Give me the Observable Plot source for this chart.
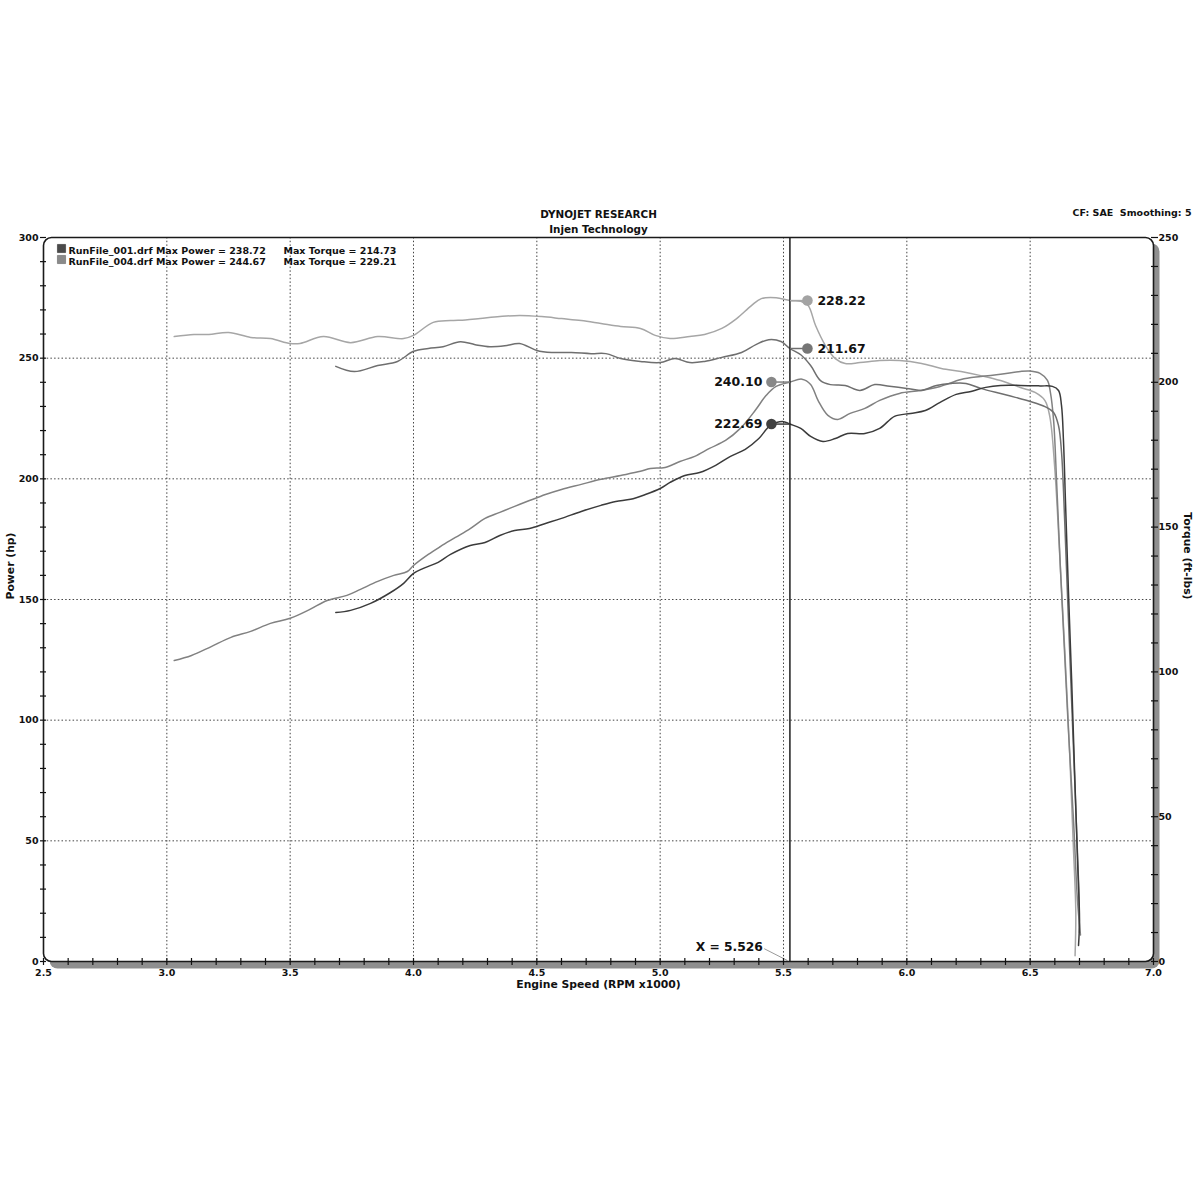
<!DOCTYPE html>
<html><head><meta charset="utf-8">
<script src="https://cdn.jsdelivr.net/npm/d3@7"></script>
<script src="https://cdn.jsdelivr.net/npm/@observablehq/plot@0.6"></script>
<style>
html,body{margin:0;padding:0;background:#fff;}
#chart{width:1201px;height:1201px;}
</style></head><body><div id="chart"></div>
<script>
// ---- data ----
const rpmMajorTicks = [2.5,3.0,3.5,4.0,4.5,5.0,5.5,6.0,6.5,7.0];
const powerTicks = [0,50,100,150,200,250,300];
const torqueTicks = [0,50,100,150,200,250];
const runNames = ["RunFile_001.drf","RunFile_004.drf"];
const runMaxPower = [238.72, 244.67];
const runMaxTorque = [214.73, 229.21];
const cursorRpm = 5.526;
const readoutSeries = ["torque004","torque001","power004","power001"];
const readoutValues = [228.22, 211.67, 240.10, 222.69];

// [rpm x1000, hp]
const power001 = [
[3.685,144.6],[3.745,145.5],[3.826,148.4],[3.907,152.9],[3.96,156.7],[4.00,160.8],[4.04,162.9],[4.10,165.4],[4.15,168.7],[4.23,172.4],[4.29,173.6],[4.35,176.5],[4.41,178.6],[4.47,179.4],[4.535,181.5],[4.60,183.6],[4.68,186.5],[4.76,189.0],[4.82,190.6],[4.88,191.5],[4.94,193.5],[5.00,196.0],[5.04,198.5],[5.10,201.4],[5.16,202.6],[5.225,205.6],[5.285,209.3],[5.345,212.2],[5.40,216.7],[5.447,222.1],[5.496,223.8],[5.526,222.69],[5.57,220.9],[5.61,217.6],[5.66,215.5],[5.71,216.7],[5.76,218.8],[5.83,218.8],[5.89,220.9],[5.95,225.9],[6.015,227.1],[6.075,228.3],[6.135,231.7],[6.20,235.0],[6.26,236.2],[6.32,237.9],[6.38,238.7],[6.46,238.72],[6.54,238.5],[6.59,238.3],[6.615,236.6],[6.627,230.4],[6.635,215.9],[6.643,191],[6.655,154],[6.668,117],[6.68,79],[6.692,42],[6.70,17],[6.696,6.6]
];
const power004 = [
[3.03,124.7],[3.10,126.8],[3.18,130.5],[3.26,134.3],[3.34,136.8],[3.42,140.1],[3.50,142.2],[3.58,145.9],[3.65,149.6],[3.73,151.7],[3.785,154.2],[3.855,157.5],[3.92,160.0],[3.975,161.6],[4.00,164.1],[4.06,168.7],[4.11,172.0],[4.17,175.7],[4.23,179.4],[4.29,183.6],[4.35,186.1],[4.41,188.6],[4.47,191.0],[4.535,193.5],[4.60,195.6],[4.68,197.7],[4.76,199.8],[4.84,201.4],[4.92,203.1],[4.96,204.3],[5.02,204.7],[5.08,207.2],[5.14,209.3],[5.20,212.6],[5.265,215.9],[5.325,220.9],[5.385,228.3],[5.43,234.6],[5.47,238.3],[5.526,240.1],[5.575,241.3],[5.61,239.1],[5.64,232.5],[5.68,226.3],[5.72,224.6],[5.77,227.1],[5.83,229.2],[5.89,232.5],[5.97,235.4],[6.055,236.6],[6.135,238.3],[6.22,241.2],[6.30,242.4],[6.38,243.3],[6.46,244.5],[6.50,244.67],[6.54,243.7],[6.57,240.8],[6.582,235.8],[6.595,224.2],[6.607,199.3],[6.623,162],[6.639,129],[6.655,96],[6.676,58],[6.692,25],[6.704,11]
];
// [rpm x1000, ft-lbs]
const torque001 = [
[3.685,205.5],[3.76,203.7],[3.855,205.8],[3.935,207.2],[4.00,210.7],[4.06,211.7],[4.12,212.3],[4.19,214.0],[4.25,213.0],[4.31,212.3],[4.37,212.6],[4.43,213.4],[4.50,211.0],[4.56,210.3],[4.64,210.3],[4.72,209.9],[4.78,209.9],[4.84,208.2],[4.92,207.2],[5.00,206.8],[5.06,208.2],[5.12,206.8],[5.18,207.2],[5.25,208.6],[5.33,210.3],[5.39,213.1],[5.44,214.73],[5.49,214.1],[5.526,211.67],[5.57,209.5],[5.61,205.8],[5.65,200.6],[5.69,199.2],[5.75,198.9],[5.81,197.2],[5.87,199.2],[5.93,198.6],[6.00,197.9],[6.06,197.2],[6.12,198.9],[6.18,199.6],[6.24,199.6],[6.30,197.9],[6.38,196.1],[6.44,194.8],[6.50,193.4],[6.56,191.6],[6.595,189.6],[6.615,185],[6.627,176],[6.64,152],[6.652,125],[6.668,90],[6.684,55],[6.696,28],[6.70,10]
];
const torque004 = [
[3.03,215.8],[3.11,216.5],[3.17,216.5],[3.25,217.2],[3.34,215.5],[3.42,215.1],[3.50,213.4],[3.54,213.4],[3.635,215.8],[3.745,213.7],[3.855,215.8],[3.96,215.1],[4.00,216.2],[4.08,220.7],[4.15,221.3],[4.21,221.5],[4.27,222.0],[4.35,222.7],[4.43,223.1],[4.52,222.7],[4.60,222.0],[4.68,221.3],[4.76,220.3],[4.84,219.3],[4.92,218.6],[4.98,216.2],[5.04,215.1],[5.12,215.8],[5.18,216.5],[5.25,218.6],[5.31,222.0],[5.37,226.5],[5.41,228.9],[5.47,229.21],[5.526,228.22],[5.57,228.0],[5.60,226.5],[5.63,219.6],[5.67,212.7],[5.71,208.2],[5.75,206.5],[5.81,206.8],[5.89,207.5],[5.97,207.5],[6.06,206.5],[6.14,204.8],[6.22,203.7],[6.30,202.3],[6.38,200.6],[6.46,198.2],[6.52,196.5],[6.56,193.7],[6.58,188],[6.60,170],[6.62,140],[6.64,108],[6.66,72],[6.675,40],[6.685,17],[6.682,2]
];

// ---- styling ----
const seriesColor = {power001:"#3b3b3b", torque001:"#6f6f6f", power004:"#818181", torque004:"#a6a6a6"};
const markerColor = {power001:"#404040", torque001:"#767676", power004:"#888888", torque004:"#a3a3a3"};
const runSwatch = ["#4a4a4a","#8a8a8a"];
const TQ = 300/250; // torque -> power axis units

const rows = (arr, name, k) => arr.map(([r,v]) => ({series:name, rpm:r, y:v*k}));
const seriesRows = {
  torque004: rows(torque004,"torque004",TQ),
  torque001: rows(torque001,"torque001",TQ),
  power004: rows(power004,"power004",1),
  power001: rows(power001,"power001",1)
};
const readouts = readoutSeries.map((s,i) => {
  const isTq = s.startsWith("torque");
  return {series:s, value:readoutValues[i], y: readoutValues[i]*(isTq?TQ:1),
          mx: cursorRpm + (isTq ? 0.071 : -0.075), side: isTq ? "right" : "left"};
});

const fam = "'DejaVu Sans', Verdana, sans-serif";
const minorRpm = d3.range(25,71).map(v=>v/10);
const minorPower = d3.range(0,301,10);
const minorTorque = d3.range(0,251,10);

const lineMarks = ["torque004","power004","torque001","power001"].map(s =>
  Plot.line(seriesRows[s], {x:"rpm", y:"y", stroke: seriesColor[s], strokeWidth:1.5, curve:"catmull-rom"}));

const chart = Plot.plot({
  width:1201, height:1201,
  marginLeft:43, marginRight:48, marginTop:237, marginBottom:240,
  x:{domain:[2.5,7.0]},
  y:{domain:[0,300]},
  color:{type:"identity"},
  style:{fontFamily:fam, fontWeight:"bold", color:"#111", background:"#fff"},
  marks:[
    Plot.frame({fill:"#8f8f8f", stroke:null, rx:8, insetLeft:6, insetTop:6, insetRight:-6, insetBottom:-7}),
    Plot.frame({fill:"#fff", stroke:null, rx:8}),
    Plot.gridX({ticks: rpmMajorTicks.filter(t=>t>2.5 && t<7), stroke:"#444", strokeOpacity:1, strokeWidth:1, strokeDasharray:"1.5,2.2"}),
    Plot.gridY({ticks: powerTicks.filter(t=>t>0 && t<300), stroke:"#444", strokeOpacity:1, strokeWidth:1, strokeDasharray:"1.5,2.2"}),
    ...lineMarks,
    Plot.ruleX([cursorRpm], {stroke:"#1e1e1e", strokeWidth:1.5}),
    // readout leaders, markers and values
    Plot.link(readouts, {x1:cursorRpm, x2:"mx", y1:"y", y2:"y", stroke:d=>seriesColor[d.series], strokeWidth:1.5}),
    Plot.dot(readouts, {x:"mx", y:"y", r:5.3, fill:d=>markerColor[d.series], stroke:null}),
    Plot.text(readouts.filter(d=>d.side==="right"), {x:"mx", y:"y", text:d=>d.value.toFixed(2), textAnchor:"start", dx:10, fontSize:12.5, fill:"#111"}),
    Plot.text(readouts.filter(d=>d.side==="left"), {x:"mx", y:"y", text:d=>d.value.toFixed(2), textAnchor:"end", dx:-9, fontSize:12.5, fill:"#111"}),
    // cursor readout
    Plot.link([cursorRpm], {x1:d=>d-0.104, y1:5.3, x2:d=>d-0.01, y2:0.4, stroke:"#9a9a9a", strokeWidth:1}),
    Plot.text([cursorRpm], {x:d=>d, y:0, text:d=>`X = ${d.toFixed(3)}`, textAnchor:"end", dx:-27, dy:-14, fontSize:12.3, fill:"#111"}),
    // outer frame
    Plot.frame({stroke:"#1a1a1a", strokeWidth:1.6, rx:8}),
    // axes
    Plot.axisX({ticks:minorRpm, tickSize:7, dy:-3, tickFormat:()=>"", label:null, stroke:"#111", strokeWidth:1.2}),
    Plot.axisX({ticks:rpmMajorTicks, tickSize:0, tickPadding:8, tickFormat:d3.format(".1f"), label:null, fontSize:9.5}),
    Plot.axisY({ticks:minorPower, tickSize:6, dx:3, tickFormat:()=>"", label:null, stroke:"#111", strokeWidth:1.2}),
    Plot.axisY({ticks:powerTicks, tickSize:0, tickPadding:5, tickFormat:d=>d, label:null, fontSize:9.5}),
    Plot.axisY({anchor:"right", ticks:minorTorque.map(t=>t*TQ), tickSize:7, dx:-3, tickFormat:()=>"", label:null, stroke:"#111", strokeWidth:1.2}),
    Plot.axisY({anchor:"right", ticks:torqueTicks.map(t=>t*TQ), tickSize:0, tickPadding:5, tickFormat:v=>Math.round(v/TQ), label:null, fontSize:9.5}),
    // axis titles
    Plot.text(["Engine Speed (RPM x1000)"], {frameAnchor:"bottom", text:d=>d, dy:26, fontSize:10.8, fill:"#111"}),
    Plot.text(["Power (hp)"], {frameAnchor:"left", text:d=>d, rotate:-90, dx:-33, fontSize:10.8, fill:"#111"}),
    Plot.text(["Torque (ft-lbs)"], {frameAnchor:"right", text:d=>d, rotate:90, dx:34, fontSize:10.8, fill:"#111"}),
    // header
    Plot.text(["DYNOJET RESEARCH"], {frameAnchor:"top", text:d=>d, dy:-27, fontSize:10.4, fill:"#111"}),
    Plot.text(["Injen Technology"], {frameAnchor:"top", text:d=>d, dy:-12, fontSize:10.4, fill:"#111"}),
    Plot.text(["CF: SAE\u00a0\u00a0Smoothing: 5"], {frameAnchor:"top-right", text:d=>d, textAnchor:"end", dx:38, dy:-28, fontSize:9.5, fill:"#111"}),
    // legend
    Plot.dot([runNames[0]], {frameAnchor:"top-left", dx:18, dy:11, symbol:"square", r:4.6, fill:runSwatch[0], stroke:"#333", strokeWidth:0.6}),
    Plot.dot([runNames[1]], {frameAnchor:"top-left", dx:18, dy:22, symbol:"square", r:4.6, fill:runSwatch[1], stroke:"#666", strokeWidth:0.6}),
    Plot.text([runNames.map((n,i)=>`${n} Max Power = ${runMaxPower[i].toFixed(2)}`).join("\n")], {frameAnchor:"top-left", text:d=>d, textAnchor:"start", lineAnchor:"top", lineHeight:1.16, dx:25, dy:8.3, fontSize:9.5, fill:"#111"}),
    Plot.text([runMaxTorque.map(v=>`Max Torque = ${v.toFixed(2)}`).join("\n")], {frameAnchor:"top-left", text:d=>d, textAnchor:"start", lineAnchor:"top", lineHeight:1.16, dx:240, dy:8.3, fontSize:9.5, fill:"#111"})
  ]
});
document.getElementById("chart").append(chart);
</script></body></html>
